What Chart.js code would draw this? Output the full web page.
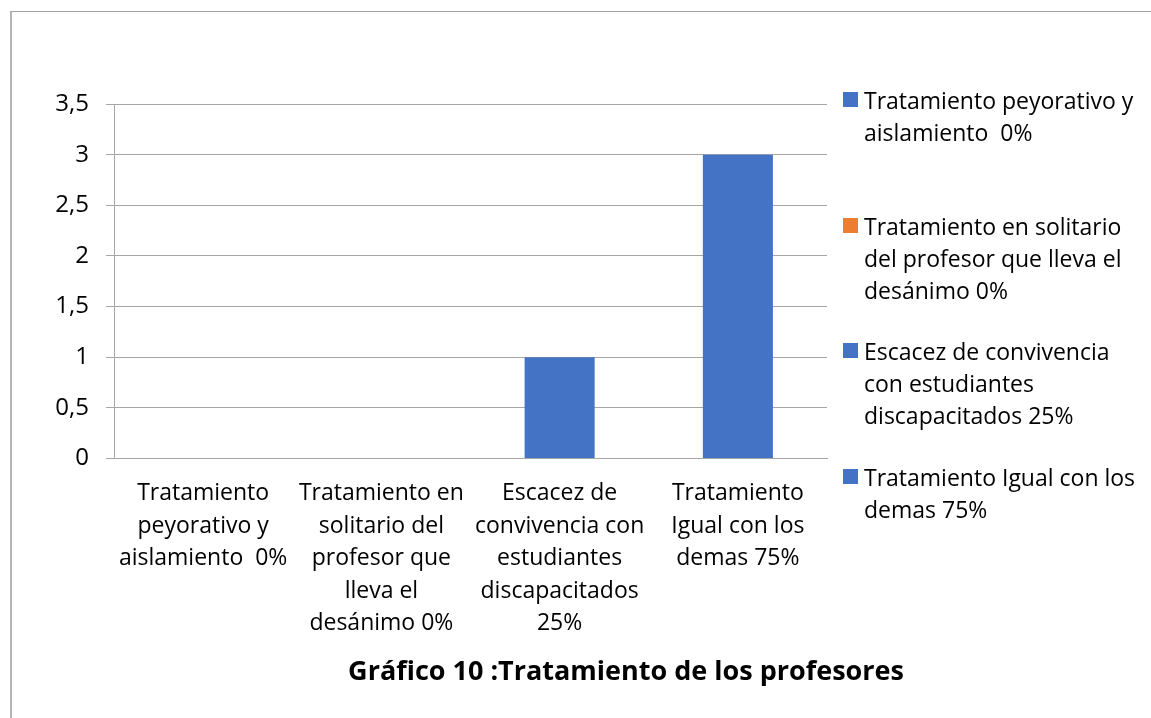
<!DOCTYPE html>
<html>
<head>
<meta charset="utf-8">
<script src="https://cdn.jsdelivr.net/npm/chart.js@4"></script>
<style>
  html, body { margin: 0; padding: 0; background: #fff; overflow: hidden; }
  body { width: 1151px; height: 718px; position: relative; }
  #marco { position: absolute; left: 10px; top: 11px; width: 1200px; height: 800px;
           border-left: 2px solid #b4b4b4; border-top: 1px solid #a0a0a0; }
  #grafico { position: absolute; left: 0; top: 0; }
  #leyenda { position: absolute; left: 843px; top: 84px; font-family: "Open Sans", sans-serif;
             font-size: 23px; line-height: 32px; color: #000; }
  .item { position: absolute; left: 0; white-space: pre; }
  .caja { position: absolute; left: 0; top: 8px; width: 15px; height: 15px; }
  .texto { position: absolute; left: 21px; top: 0; }
</style>
</head>
<body>
<div id="marco"></div>
<canvas id="grafico" width="1252" height="718"></canvas>
<div id="leyenda"></div>
<script>

// datos del grafico
var categorias = [
    "Tratamiento peyorativo y aislamiento  0%",
    "Tratamiento en solitario del profesor que lleva el desánimo 0%",
    "Escacez de convivencia con estudiantes discapacitados 25%",
    "Tratamiento Igual con los demas 75%"
];
var valores = [0, 0, 1, 3];
var colores = ["#4472C4", "#ED7D31", "#4472C4", "#4472C4"];

// etiquetas del eje x (partidas en lineas)
var etiquetasX = [
    ["Tratamiento", "peyorativo y", "aislamiento  0%"],
    ["Tratamiento en", "solitario del", "profesor que", "lleva el", "desánimo 0%"],
    ["Escacez de", "convivencia con", "estudiantes", "discapacitados", "25%"],
    ["Tratamiento", "Igual con los", "demas 75%"]
];

// leyenda (partida en lineas)
var etiquetasLeyenda = [
    ["Tratamiento peyorativo y", "aislamiento  0%"],
    ["Tratamiento en solitario", "del profesor que lleva el", "desánimo 0%"],
    ["Escacez de convivencia", "con estudiantes", "discapacitados 25%"],
    ["Tratamiento Igual con los", "demas 75%"]
];

var ejeYMin = 0;
var ejeYMax = 3.5;
var ejeYPaso = 0.5;

var titulo = "Gráfico 10 :Tratamiento de los profesores";

function crearLeyenda(){

    var ley = document.getElementById("leyenda");

    for(var i = 0; i < etiquetasLeyenda.length; i++){

        var item = document.createElement("div");
        item.className = "item";
        item.style.top = (i * 125.7) + "px";

        var caja = document.createElement("div");
        caja.className = "caja";
        caja.style.background = colores[i];

        var texto = document.createElement("div");
        texto.className = "texto";
        texto.textContent = etiquetasLeyenda[i].join("\n");

        item.appendChild(caja);
        item.appendChild(texto);
        ley.appendChild(item);
    }

}

function crearGrafico(){

    const ctx = document.getElementById("grafico");

    new Chart(ctx, {
        type: "bar",
        data: {
            labels: etiquetasX,
            datasets: [{
                label: "Tratamiento",
                data: valores,
                backgroundColor: colores,
                borderWidth: 0,
                categoryPercentage: 1,
                barPercentage: 0.393
            }]
        },
        options: {
            responsive: false,
            animation: false,
            devicePixelRatio: 1,
            layout: {
                padding: { top: 104, right: 0, left: 0, bottom: 0 }
            },
            scales: {
                x: {
                    grid: { display: false, drawTicks: false },
                    border: { display: true, color: "#a6a6a6" },
                    ticks: {
                        color: "#000",
                        padding: 19,
                        maxRotation: 0,
                        autoSkip: false,
                        font: { family: "'Open Sans', sans-serif", size: 23, lineHeight: "32.5px" }
                    },
                    afterFit: function(s){ s.height = 190; }
                },
                y: {
                    min: ejeYMin,
                    max: ejeYMax,
                    grid: { color: "#a6a6a6", tickLength: 8, lineWidth: 1 },
                    border: { display: true, color: "#a6a6a6" },
                    ticks: {
                        stepSize: ejeYPaso,
                        color: "#000",
                        padding: 17,
                        font: { family: "'Open Sans', sans-serif", size: 24 },
                        callback: function(v){ return String(v).replace(".", ","); }
                    },
                    afterFit: function(s){ s.width = 114; }
                },
                // espacio reservado para la leyenda (a la derecha)
                hueco: {
                    type: "linear",
                    position: "right",
                    grid: { display: false, drawTicks: false },
                    border: { display: false },
                    ticks: { display: false },
                    afterFit: function(s){ s.width = 425; }
                }
            },
            plugins: {
                legend: { display: false },
                tooltip: { enabled: false },
                title: {
                    display: true,
                    position: "bottom",
                    text: titulo,
                    color: "#000",
                    font: { family: "'Open Sans', sans-serif", size: 27, weight: "bold" },
                    padding: { top: 8, bottom: 29 }
                }
            }
        }
    });

}

crearLeyenda();
crearGrafico();

</script>
</body>
</html>
